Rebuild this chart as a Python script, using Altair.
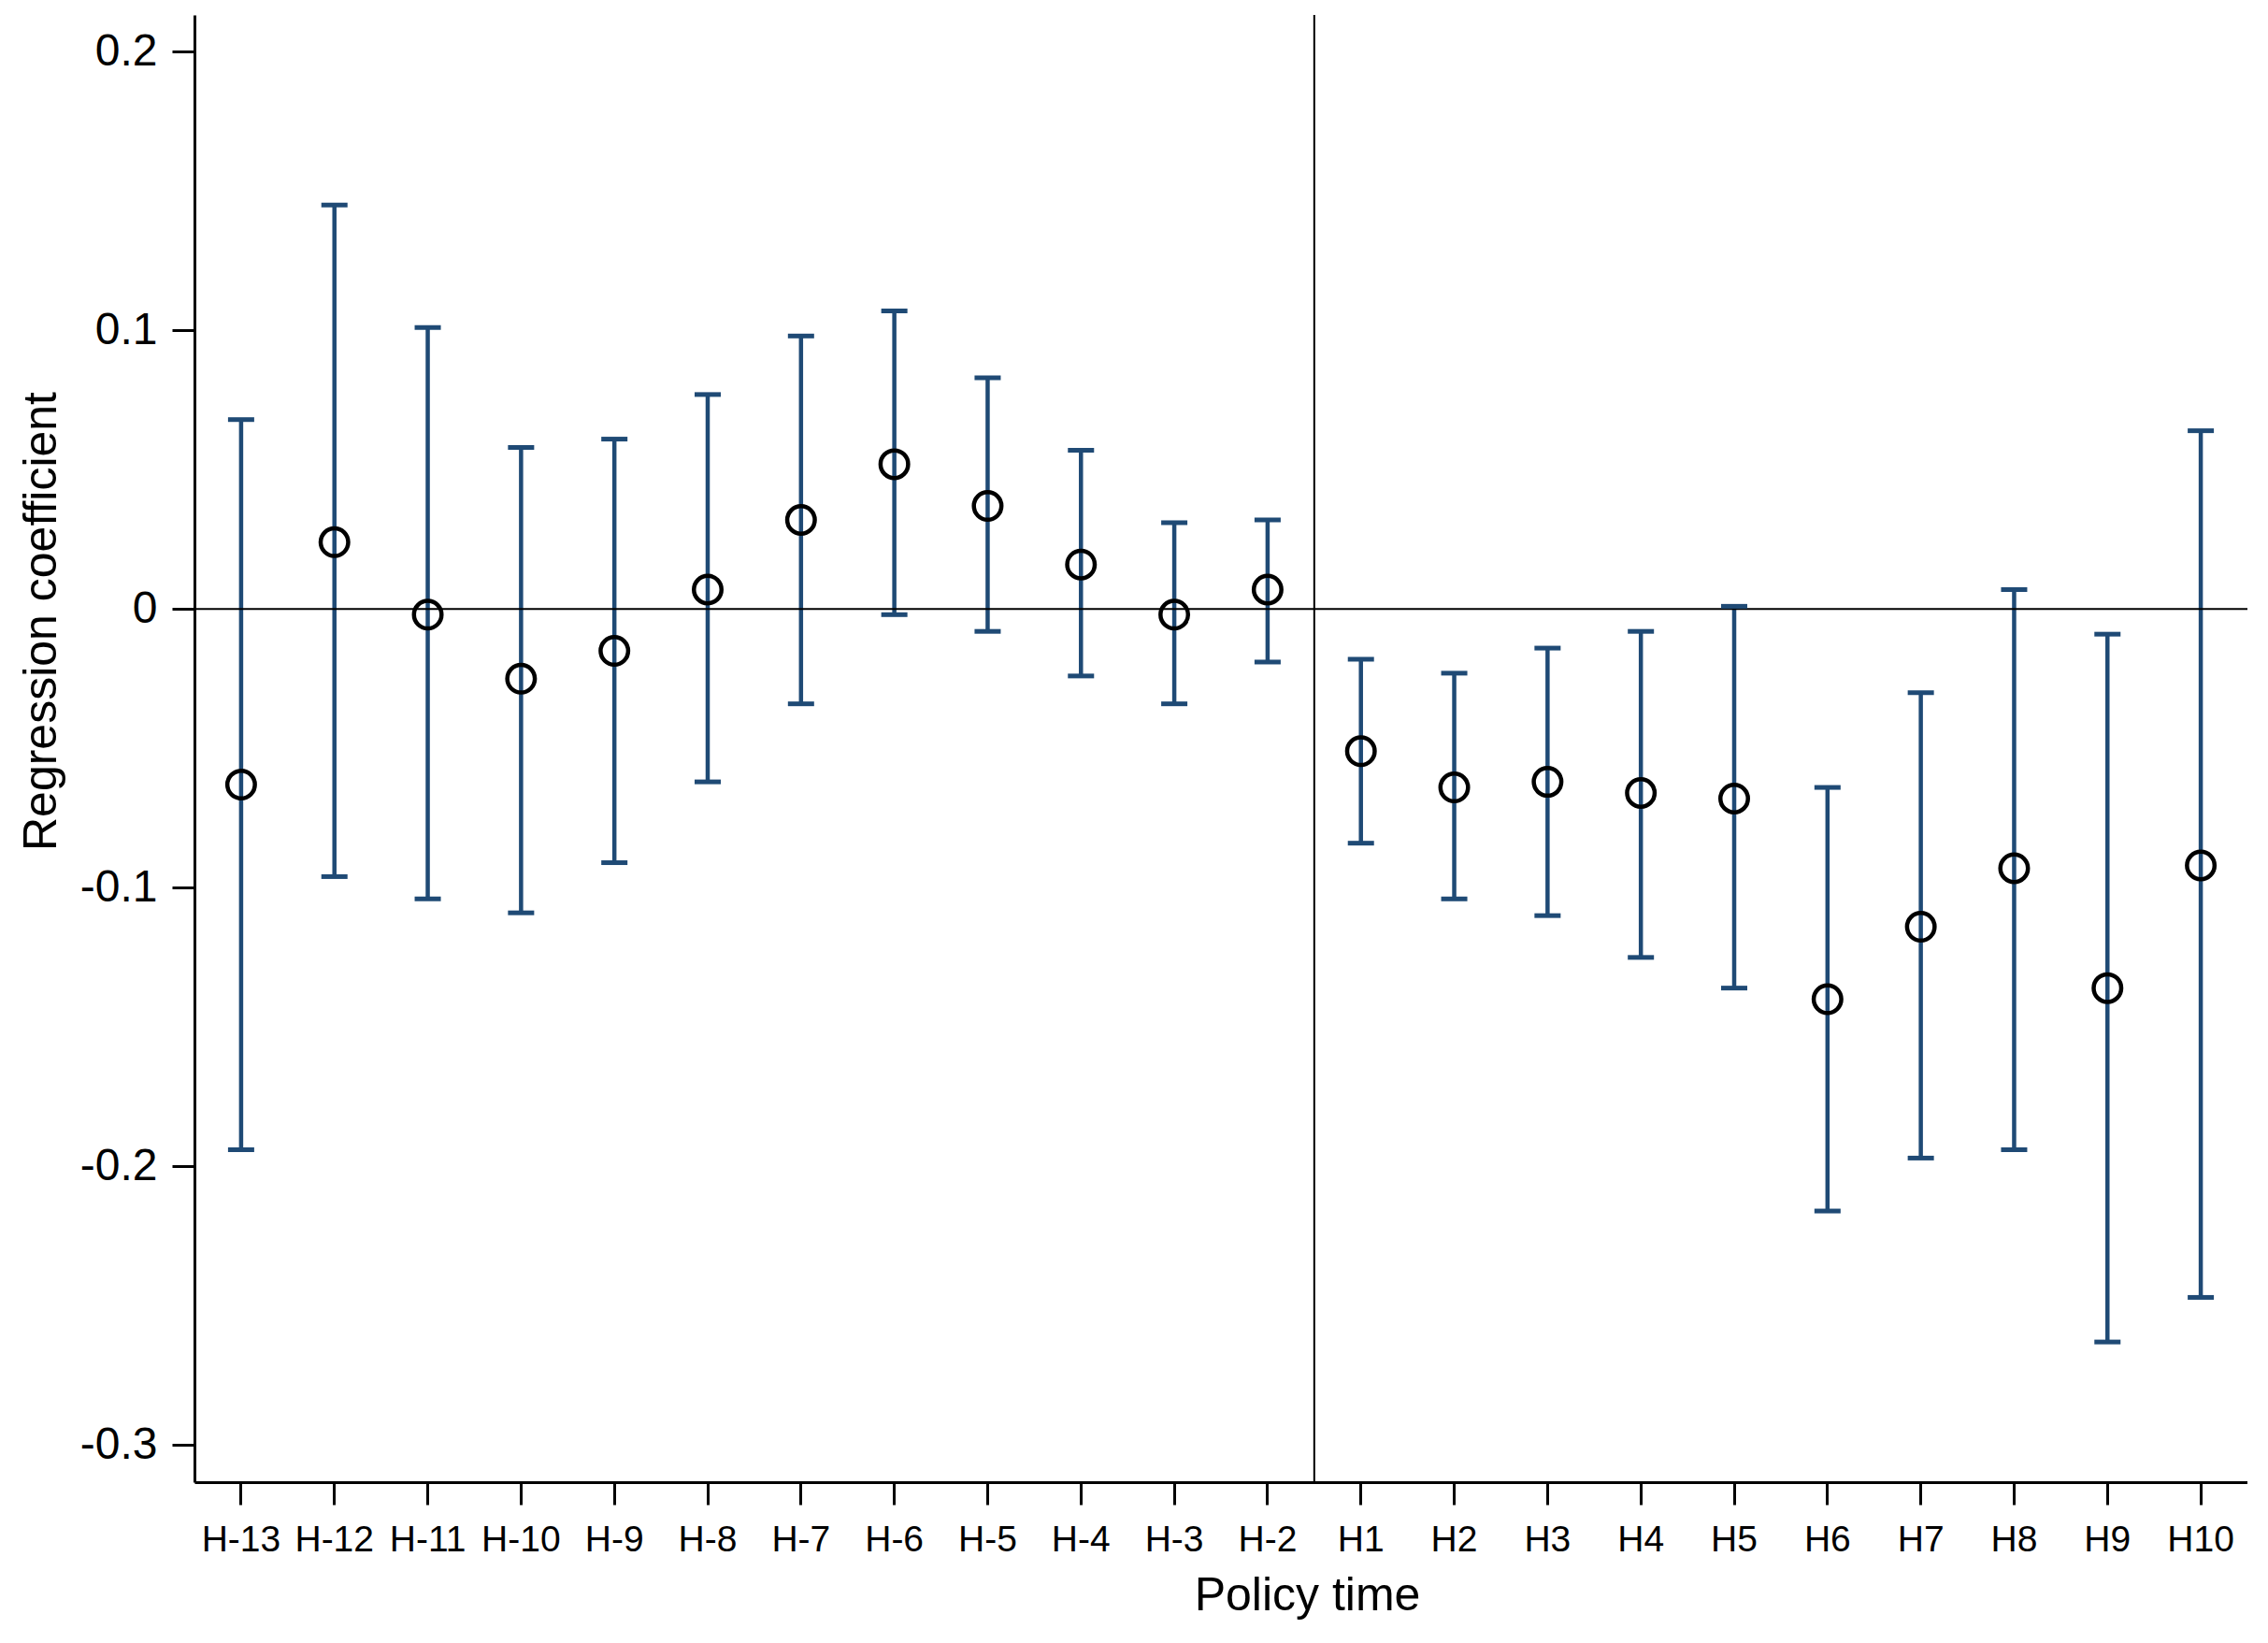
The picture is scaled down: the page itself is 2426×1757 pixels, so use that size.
import altair as alt
import pandas as pd

periods = ["H-13", "H-12", "H-11", "H-10", "H-9", "H-8", "H-7", "H-6", "H-5", "H-4", "H-3", "H-2",
           "H1", "H2", "H3", "H4", "H5", "H6", "H7", "H8", "H9", "H10"]
coef = [-0.063, 0.024, -0.002, -0.025, -0.015, 0.007, 0.032, 0.052, 0.037, 0.016, -0.002, 0.007,
        -0.051, -0.064, -0.062, -0.066, -0.068, -0.140, -0.114, -0.093, -0.136, -0.092]
upper = [0.068, 0.145, 0.101, 0.058, 0.061, 0.077, 0.098, 0.107, 0.083, 0.057, 0.031, 0.032,
         -0.018, -0.023, -0.014, -0.008, 0.001, -0.064, -0.030, 0.007, -0.009, 0.064]
lower = [-0.194, -0.096, -0.104, -0.109, -0.091, -0.062, -0.034, -0.002, -0.008, -0.024, -0.034, -0.019,
         -0.084, -0.104, -0.110, -0.125, -0.136, -0.216, -0.197, -0.194, -0.263, -0.247]
y_ticks = [-0.3, -0.2, -0.1, 0, 0.1, 0.2]
event_period = ["H1"]

df = pd.DataFrame({"period": periods, "coef": coef, "lo": lower, "hi": upper})
ev = pd.DataFrame({"period": event_period})
zero = pd.DataFrame({"v": [0]})

FONT = "Liberation Sans"
BAR = "#1f4a75"

xscale = alt.Scale(domain=periods, paddingInner=0, paddingOuter=0)
yscale = alt.Scale(domain=[-0.3133, 0.2132], nice=False, zero=False)

x_main = alt.X(
    "period:N", scale=xscale, sort=periods, title="Policy time",
    axis=alt.Axis(
        labelAngle=0, labelFontSize=39, labelFont=FONT, labelColor="black",
        labelPadding=18, tickSize=24, tickWidth=3, tickColor="black",
        domainColor="black", domainWidth=3,
        titleFont=FONT, titleFontSize=50, titleFontWeight="normal", titleColor="black",
        titleX=1190, titleY=136, titleBaseline="alphabetic", titleAlign="center",
    ),
)
y_main = alt.Y(
    "lo:Q", scale=yscale, title="Regression coefficient",
    axis=alt.Axis(
        values=y_ticks,
        labelExpr="datum.value == 0 ? '0' : (datum.value < 0 ? '-' : '') + format(abs(datum.value), '.1f')",
        labelFontSize=48, labelFont=FONT, labelColor="black", labelPadding=16,
        tickSize=24, tickWidth=3, tickColor="black",
        domainColor="black", domainWidth=3,
        titleFont=FONT, titleFontSize=50, titleFontWeight="normal", titleColor="black",
        titleAngle=-90, titleX=-164, titleY=648, titleAlign="center", titleBaseline="middle",
    ),
)

bars = alt.Chart(df).mark_rule(color=BAR, strokeWidth=4.5).encode(
    x=x_main, y=y_main, y2="hi:Q"
)

caps = alt.Chart(df).transform_fold(["lo", "hi"], as_=["end", "val"]).mark_tick(
    color=BAR, size=28, thickness=5, opacity=1
).encode(
    x=alt.X("period:N", scale=xscale, sort=periods),
    y=alt.Y("val:Q", scale=yscale),
)

zero_line = alt.Chart(zero).mark_rule(color="black", strokeWidth=2).encode(
    y=alt.Y("v:Q", scale=yscale)
)

event_line = alt.Chart(ev).mark_rule(color="black", strokeWidth=2).encode(
    x=alt.X("period:N", scale=xscale, sort=periods, bandPosition=0)
)

points = alt.Chart(df).mark_point(
    shape="circle", filled=False, size=870, strokeWidth=4.5, color="black", opacity=1
).encode(
    x=alt.X("period:N", scale=xscale, sort=periods),
    y=alt.Y("coef:Q", scale=yscale),
)

chart = alt.layer(bars, zero_line, event_line, caps, points).properties(
    width=2196, height=1569,
    padding={"left": 200, "top": 8, "right": 0, "bottom": 154},
    autosize=alt.AutoSizeParams(type="none"),
    background="white",
).configure_view(stroke=None).configure_axis(grid=False)

chart.save("out.html", embed_options={"renderer": "svg", "actions": False})
